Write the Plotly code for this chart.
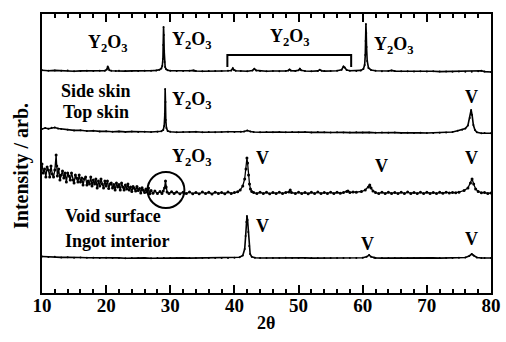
import plotly.graph_objects as go

# ---------------- data ----------------
# Two-theta positions (deg) and relative intensities (arb.) for each pattern.
x_ref = [10, 11, 12, 13, 14, 15, 16, 17, 18, 19, 19.8, 20.1, 20.25, 20.35, 20.5, 20.8,
         21.5, 22, 23, 24, 25, 26, 27, 27.8, 28.3, 28.6, 28.75, 28.85, 28.9, 28.95, 29.0,
         29.05, 29.1, 29.2, 29.35, 29.6, 30, 31, 32, 33, 33.6, 33.8, 34, 35, 36, 37, 38,
         39, 39.5, 39.75, 39.9, 40.2, 41, 42, 42.8, 43.1, 43.4, 44, 45, 46, 47, 48, 48.4,
         48.6, 48.8, 49.5, 50.0, 50.2, 50.4, 51, 52, 53, 53.3, 53.6, 54, 55, 56, 56.7,
         57.0, 57.2, 57.5, 58, 59, 59.7, 60.1, 60.3, 60.4, 60.45, 60.5, 60.55, 60.6, 60.7,
         60.9, 61.3, 62, 63, 64, 64.5, 65, 66, 67, 68, 69, 70, 71, 72, 73, 74, 75, 76, 77,
         78, 78.5, 79, 80]
i_ref = [0.8, 0.3, 0.6, 0.2, 0.4, -0.2, 0.1, 0.3, -0.1, 0.2, 0.3, 1.5, 4.5, 3.0, 0.8, 0.2,
         0.0, 0.2, -0.1, 0.1, 0.0, 0.2, 0.3, 0.6, 1.2, 2.5, 5, 12, 26, 44, 36,
         20, 9, 4, 1.8, 0.8, 0.3, 0.1, 0.0, 0.2, 0.6, 0.3, 0.0, -0.2, 0.1, -0.1, 0.0,
         0.2, 0.5, 2.8, 1.2, 0.2, 0.0, -0.2, 0.5, 2.2, 0.6, 0.0, -0.3, 0.0, -0.2, 0.1, 0.5,
         1.5, 0.4, 0.1, 0.8, 2.2, 0.7, 0.0, -0.2, 0.1, 1.2, 0.2, -0.1, 0.0, 0.2, 1.2,
         4.5, 3.5, 1.0, 0.2, 0.1, 0.6, 2.0, 6, 16, 30, 47, 38, 24, 10,
         3, 1.0, 0.2, -0.2, 0.0, 0.6, -0.1, -0.3, -0.2, -0.4, -0.3, -0.5, -0.3, -0.6, -0.5,
         -0.7, -0.6, -0.8, -0.7, -0.3, 0.2, -0.6, -1.0]

x_skin = [10, 10.5, 11, 11.5, 12, 12.5, 13, 14, 15, 16, 17, 18, 19, 20, 21, 22, 23, 24, 25,
          26, 27, 28, 28.6, 28.9, 29.05, 29.15, 29.2, 29.25, 29.3, 29.4, 29.6, 30, 31, 32,
          33, 34, 35, 36, 37, 38, 39, 40, 41, 41.5, 42, 42.5, 43, 44, 45, 46, 47, 48, 49, 50,
          51, 52, 53, 54, 55, 56, 57, 58, 59, 60, 61, 62, 63, 64, 65, 66, 67, 68, 69, 70, 71,
          72, 73, 74, 74.8, 75.5, 76, 76.4, 76.7, 76.9, 77.05, 77.25, 77.5, 77.8, 78.5, 79, 80]
i_skin = [3.0, 4.0, 3.2, 4.2, 4.5, 3.5, 3.0, 2.2, 1.6, 1.8, 1.0, 1.2, 0.6, 0.8, 0.3, 0.6, 0.1, 0.4, 0.0,
          0.3, 0.0, 0.3, 0.8, 2.0, 6, 18, 43, 30, 12, 4, 1.0, 0.2, -0.2, 0.1,
          -0.1, 0.2, -0.2, 0.1, -0.2, 0.0, 0.2, 0.0, 0.2, 0.5, 1.5, 0.5, 0.0, -0.2, 0.1, -0.3, 0.0, -0.2, 0.1, -0.3,
          0.0, -0.4, -0.1, -0.3, -0.5, -0.2, -0.4, -0.6, -0.3, -0.5, -0.4, -0.7, -0.5, -0.8, -0.6, -0.9, -0.7, -1.0, -0.8, -1.0, -0.9,
          -0.8, -0.6, 0.0, 1.2, 2.2, 3.5, 6.5, 14, 22, 17, 7, 2.0, -0.2, -1.2, -1.0, -1.2]

x_void = [10.0, 10.2, 10.4, 10.6, 10.8, 11.0, 11.2, 11.4, 11.6, 11.8, 12.0, 12.2, 12.3, 12.4,
          12.6, 12.8, 13.0, 13.2, 13.4, 13.6, 13.8, 14.0, 14.2, 14.4, 14.6, 14.8, 15.0, 15.2,
          15.4, 15.6, 15.8, 16.0, 16.2, 16.4, 16.6, 16.8, 17.0, 17.2, 17.4, 17.6, 17.8, 18.0,
          18.2, 18.4, 18.6, 18.8, 19.0, 19.2, 19.4, 19.6, 19.8, 20.0, 20.2, 20.4, 20.6, 20.8,
          21.0, 21.2, 21.4, 21.6, 21.8, 22.0, 22.2, 22.4, 22.6, 22.8, 23.0, 23.2, 23.4, 23.6,
          23.8, 24.0, 24.2, 24.4, 24.6, 24.8, 25.0, 25.2, 25.4, 25.6, 25.8, 26.0, 26.2, 26.4,
          26.6, 26.8, 27.0, 27.3, 27.6, 28.0, 28.4, 28.7, 28.9, 29.1, 29.25, 29.35, 29.5, 29.8,
          30.2, 30.6, 31, 31.5, 32, 32.5, 33, 33.5, 34, 34.5, 35, 35.5, 36, 36.5, 37, 37.5, 38,
          38.5, 39, 39.5, 40, 40.5, 40.9, 41.3, 41.6, 41.8, 41.95, 42.05, 42.2, 42.35, 42.5,
          42.7, 43, 43.5, 44, 44.5, 45, 45.5, 46, 46.5, 47, 47.5, 48, 48.5, 48.7, 48.9, 49.5,
          50, 50.5, 51, 51.5, 52, 52.5, 53, 53.5, 54, 54.5, 55, 55.5, 56, 56.5, 57, 57.5, 57.7,
          58, 58.5, 59, 59.8, 60.4, 60.9, 61.1, 61.3, 61.6, 62, 62.5, 63, 63.5, 64, 64.5, 65,
          65.5, 66, 66.5, 67, 67.5, 68, 68.5, 69, 69.5, 70, 70.5, 71, 71.5, 72, 72.5, 73, 73.5,
          74, 74.5, 75, 75.8, 76.4, 76.8, 77.05, 77.3, 77.6, 78, 78.5, 79, 79.5, 80]
i_void = [29, 20, 24, 16, 26, 23, 16, 27, 19, 16, 23, 38, 27, 17,
          24, 13, 18, 22, 15, 20, 11, 20, 17, 13, 20, 13, 10, 18,
          15, 11, 18, 11, 15, 8, 14, 16, 8, 12, 9, 16, 7, 13,
          9, 14, 5, 12, 7, 14, 9, 5, 12, 7, 12, 4.5, 9, 10,
          5, 8.5, 3, 10, 6, 8.5, 3, 10, 6, 3, 8, 4, 9, 3,
          6, 1.5, 6.4, 4.7, 2.1, 6.4, 2.6, 4.5, 0.1, 5.3, 2.7, 0.4, 4.1, 0.9,
          4.9, -0.7, 2.4, -0.3, 2, -0.5, 1.5, -0.5, 2, 5, 12, 6, 1, -0.5,
          1.2, -0.6, 1.0, -0.8, 0.8, -0.5, 1.0, -0.7, 0.6, -0.8, 0.9, -0.5, 0.7, -0.9, 0.8, -0.4, 0.6,
          -0.7, 0.9, -0.4, 0.5, 1.2, 3, 7, 14, 24, 35, 30, 18, 9, 4,
          1.5, 0.5, -0.5, 0.8, -0.6, 0.7, -0.8, 0.6, -0.5, 0.8, -0.6, 0.5, 1, 3, 0.5, -0.5,
          0.8, -0.6, 0.6, -0.7, 0.7, -0.5, 0.9, -0.6, 0.6, -0.4, 0.8, -0.6, 0.7, -0.3, 0.6, 1.5, 2,
          0.4, 1.0, 0.8, 1.5, 3, 6, 8, 5, 2, 0.5, -0.6, 0.8, -0.5, 0.7, -0.4, 0.6,
          -0.5, 0.8, -0.6, 0.9, -0.4, 0.5, -0.6, 0.8, -0.5, 0.7, -0.4, 0.6, -0.5, 0.7, -0.3, 0.8, 0.1,
          0.6, 0.3, 0.8, 2.5, 5, 10, 14, 9, 4, 1.5, 0.3, 0.5, -0.4, 0]

x_ingot = [10, 11, 12, 13, 14, 15, 16, 17, 18, 19, 20, 21, 22, 23, 24, 25, 26, 27, 28, 29, 30,
           31, 32, 33, 34, 35, 36, 37, 38, 39, 40, 40.8, 41.3, 41.6, 41.75, 41.85, 41.95, 42.05,
           42.15, 42.3, 42.45, 42.7, 43.2, 44, 45, 46, 47, 48, 49, 50, 51, 52, 53, 54, 55, 56,
           57, 58, 59, 60, 60.6, 61.0, 61.3, 61.8, 62, 63, 64, 65, 66, 67, 68, 69, 70, 71, 72,
           73, 74, 75, 76, 76.6, 77.0, 77.3, 77.8, 78.5, 79, 80]
i_ingot = [1.5, 1.0, 1.2, 0.6, 0.8, 0.3, 0.5, 0.2, 0.3, 0.0, 0.2, -0.1, 0.1, -0.2, 0.0, -0.1, 0.1, -0.2, 0.0, 0.1, -0.1,
           0.0, 0.1, -0.1, 0.0, 0.1, -0.1, 0.0, 0.1, 0.0, 0.2, 0.8, 2.5, 9, 22, 36, 42, 38,
           26, 12, 4, 1.2, 0.3, 0.0, 0.1, -0.1, 0.0, 0.2, -0.1, 0.0, 0.1, -0.1, 0.0, 0.1, -0.1, 0.0,
           0.1, -0.1, 0.0, 0.3, 1.2, 3.0, 1.2, 0.3, 0.1, -0.1, 0.0, 0.1, -0.1, 0.0, 0.1, -0.1, 0.0, 0.1, -0.1,
           0.0, 0.1, 0.2, 0.5, 2.0, 4.0, 2.5, 0.5, 0.0, -0.1, 0.0]

x_ticks = [10, 20, 30, 40, 50, 60, 70, 80]

# ---------------- layout constants ----------------
offsets = {"ref": 222, "skin": 161, "void": 100, "ingot": 35}
FONT = "Liberation Serif, Times New Roman, serif"
BLACK = "#000000"

fig = go.Figure()
series = [("ref", x_ref, i_ref, 1.6, 2), ("skin", x_skin, i_skin, 1.6, 2),
          ("void", x_void, i_void, 1.3, 3), ("ingot", x_ingot, i_ingot, 1.6, 2)]
for name, xs, ys, lw, ms in series:
    off = offsets[name]
    fig.add_trace(go.Scatter(
        x=xs, y=[v + off for v in ys], mode="lines+markers", name=name,
        line=dict(color=BLACK, width=lw),
        marker=dict(color=BLACK, size=ms),
        showlegend=False, hoverinfo="skip"))

def ann(text, x, y, xanchor="center", size=18):
    fig.add_annotation(x=x, y=y, xref="x", yref="y", text="<b>" + text + "</b>",
                       showarrow=False, xanchor=xanchor, yanchor="middle",
                       font=dict(family=FONT, size=size, color=BLACK))

Y2O3 = "Y<sub>2</sub>O<sub>3</sub>"
ann(Y2O3, 20.3, 250)
ann(Y2O3, 33.4, 253)
ann(Y2O3, 48.7, 256)
ann(Y2O3, 64.9, 248)
ann("Side skin", 12.6, 202, "left")
ann("Top skin", 12.9, 181, "left")
ann(Y2O3, 33.4, 193)
ann("V", 76.9, 196)
ann(Y2O3, 33.4, 136)
ann("V", 44.45, 135)
ann("V", 62.85, 127)
ann("V", 76.9, 135)
ann("Void surface", 13.3, 77, "left")
ann("Ingot interior", 13.3, 52, "left")
ann("V", 44.45, 67)
ann("V", 60.8, 49)
ann("V", 76.9, 54)

# axis titles
fig.add_annotation(x=(21 - 42) / 449, y=(293 - 166) / 279, xref="paper", yref="paper",
                   text="<b>Intensity / arb.</b>", textangle=-90, showarrow=False,
                   xanchor="center", yanchor="middle",
                   font=dict(family=FONT, size=20, color=BLACK))
fig.add_annotation(x=(266 - 42) / 449, y=(293 - 323) / 279, xref="paper", yref="paper",
                   text="<b>2θ</b>", showarrow=False, xanchor="center", yanchor="middle",
                   font=dict(family=FONT, size=18, color=BLACK))

# circle around the weak Y2O3 peak, and bracket over the Y2O3 group
fig.add_shape(type="circle", xref="x", yref="y", x0=26.45, x1=32.2, y0=85, y1=121,
              line=dict(color=BLACK, width=2))
fig.add_shape(type="path", xref="x", yref="y",
              path="M 38.9 226 L 38.9 238 L 58.2 238 L 58.2 226",
              line=dict(color=BLACK, width=2))

fig.update_layout(
    width=506, height=342,
    margin=dict(l=42, r=15, t=14, b=49, autoexpand=False),
    paper_bgcolor="white", plot_bgcolor="white",
    font=dict(family=FONT, color=BLACK),
    hovermode=False,
    xaxis=dict(range=[10, 80], tickvals=x_ticks, ticktext=[f"<b>{v}</b>" for v in x_ticks],
               ticks="inside", ticklen=8, tickwidth=1.5, tickcolor=BLACK,
               minor=dict(dtick=2, ticks="inside", ticklen=4, tickwidth=1.5, tickcolor=BLACK),
               showline=True, linewidth=2, linecolor=BLACK, mirror="ticks",
               showgrid=False, zeroline=False, automargin=False,
               ticklabelstandoff=-6,
               tickfont=dict(family=FONT, size=19, color=BLACK)),
    yaxis=dict(range=[0, 279], showticklabels=False, ticks="",
               showline=True, linewidth=2, linecolor=BLACK, mirror=True,
               showgrid=False, zeroline=False, automargin=False),
)

fig.write_html("out.html", config={"displayModeBar": False},
               post_script="document.body.style.margin='0';document.body.style.padding='0';")
